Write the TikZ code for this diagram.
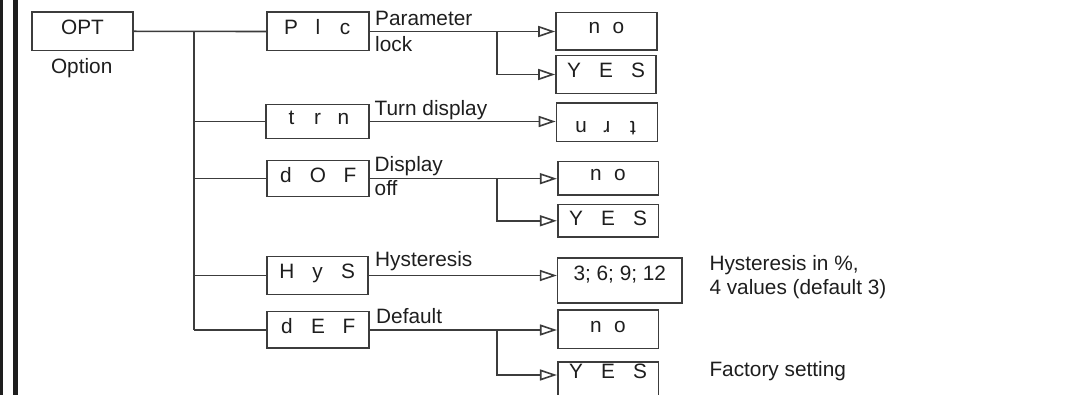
\documentclass[tikz,border=0pt]{standalone}
\usepackage{fontspec}
\setmainfont{Liberation Sans}
\usetikzlibrary{arrows.meta}
\definecolor{ln}{HTML}{3C3C3C}
\definecolor{tx}{HTML}{1E1E1E}
\newcommand\ltrs[4]{\makebox[#1]{#2}\makebox[#1]{#3}\makebox[#1]{#4}}
\newcommand\ltrtwo[3]{\makebox[#1]{#2}\makebox[#1]{#3}}
\begin{document}
\begin{tikzpicture}[x=1pt,y=-1pt,
  box/.style={draw=ln, line width=1.6pt, inner sep=0pt, text=tx,
    font=\fontsize{20.8}{25}\selectfont, text height=15pt, text depth=8pt},
  lab/.style={anchor=base west, inner sep=0pt, text=tx, font=\fontsize{20.8}{25}\selectfont},
  conn/.style={draw=ln, line width=1.6pt},
  arr/.style={conn, -{Triangle[open, length=17pt, width=11pt, fill=white]}}
]
\useasboundingbox (0,0) rectangle (1069,395);
% left border bars
\fill[tx] (0,0) rectangle (2.7,395);
\fill[tx] (12.7,0) rectangle (17.5,395);

% main box
\node[box, minimum width=101pt, minimum height=38.5pt] (OPT) at (82.5,31.3) {OPT};
\node[anchor=base, inner sep=0pt, text=tx, font=\fontsize{20.8}{25}\selectfont] (lOpt) at (81.7,74) {Option};

% parameter boxes
\node[box, minimum width=102pt, minimum height=38.4pt] (PIc) at (318,31.5) {\ltrs{27pt}{P}{l}{c}};
\node[box, minimum width=103pt, minimum height=34pt] (trn) at (317.5,121.5) {\ltrs{26pt}{t}{r}{n}};
\node[box, minimum width=102pt, minimum height=36pt] (dOF) at (318,178.7) {\ltrs{32pt}{d}{O}{F}};
\node[box, minimum width=101pt, minimum height=38pt] (HyS) at (317.5,275.5) {\ltrs{30.5pt}{H}{y}{S}};
\node[box, minimum width=102pt, minimum height=36.6pt] (dEF) at (318,330) {\ltrs{31pt}{d}{E}{F}};

% answer boxes
\node[box, text depth=11pt, minimum width=101pt, minimum height=37.7pt] (no1) at (606.5,31.2) {\ltrtwo{24pt}{n}{o}};
\node[box, minimum width=100pt, minimum height=38.3pt] (YES1) at (606,74.5) {\ltrs{32pt}{Y}{E}{S}};
\node[box, rotate=180, text depth=14pt, minimum width=101pt, minimum height=38.4pt] (trnA) at (607,122.5) {\ltrs{26pt}{t}{r}{n}};
\node[box, text depth=11pt, minimum width=100.6pt, minimum height=33.3pt] (no2) at (608,178.3) {\ltrtwo{24pt}{n}{o}};
\node[box, text depth=5pt, minimum width=100.6pt, minimum height=32.4pt] (YES2) at (608,220.8) {\ltrs{32pt}{Y}{E}{S}};
\node[box, text depth=15pt, minimum width=124.3pt, minimum height=45pt] (hys) at (619.8,280.8) {3; 6; 9; 12\hspace{14pt}};
\node[box, minimum width=100.6pt, minimum height=38.3pt] (no3) at (608,329.2) {\ltrtwo{24pt}{n}{o}};
\node[box, text depth=20.4pt, minimum width=100.6pt, minimum height=38.3pt] (YES3) at (608,381) {\ltrs{32pt}{Y}{E}{S}};

% labels
\node[lab] (lPar) at (375,26) {Parameter};
\node[lab] (lLock) at (375,52) {lock};
\node[lab] (lTurn) at (374.5,115.7) {Turn display};
\node[lab] (lDisp) at (374.5,171.7) {Display};
\node[lab] (lOff) at (374.5,196) {off};
\node[lab] (lHys) at (375,266.7) {Hysteresis};
\node[lab] (lDef) at (376,323.3) {Default};
\node[lab] (nH1) at (709.3,271) {Hysteresis in \%,};
\node[lab] (nH2) at (709.3,295) {4 values (default 3)};
\node[lab] (nF) at (709.3,377) {Factory setting};

% trunk
\coordinate (tr) at (194,31.5);
\coordinate (bx) at (497,0);
\draw[conn] (OPT.east) -- (PIc.west);
\draw[conn] (tr) -- (tr |- dEF.west);
\draw[conn] (tr |- trn.west) -- (trn.west);
\draw[conn] (tr |- dOF.west) -- (dOF.west);
\draw[conn] (tr |- HyS.west) -- (HyS.west);
\draw[conn] (tr |- dEF.west) -- (dEF.west);

% right side
\draw[arr] (PIc.east) -- (no1.west |- PIc.east);
\draw[arr] (PIc.east -| bx) |- (YES1.west);
\draw[arr] (trn.east) -- (trnA.east |- trn.east);
\draw[arr] (dOF.east) -- (no2.west |- dOF.east);
\draw[arr] (dOF.east -| bx) |- (YES2.west);
\draw[arr] (HyS.east) -- (hys.west |- HyS.east);
\draw[arr] (dEF.east) -- (no3.west |- dEF.east);
\draw[arr] (dEF.east -| bx) |- (YES3.west |- 0,375);
\end{tikzpicture}
\end{document}
